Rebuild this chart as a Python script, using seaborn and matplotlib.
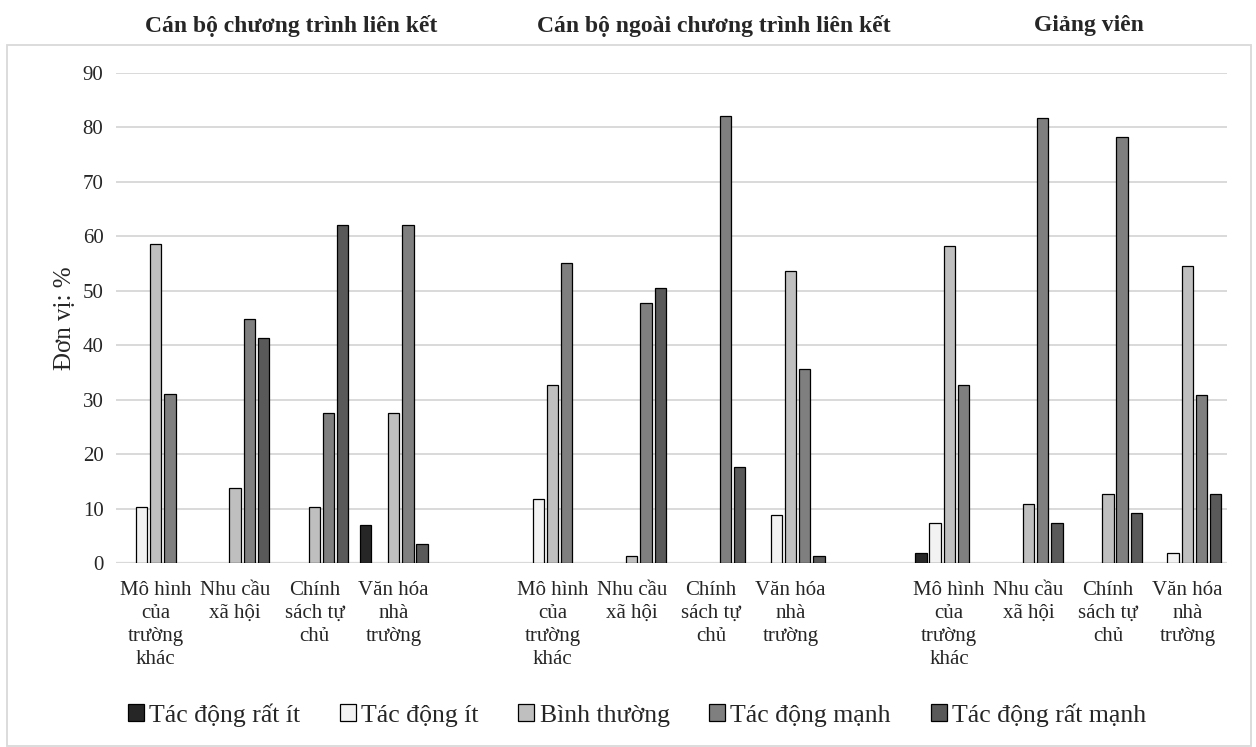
import matplotlib
matplotlib.use("Agg")
import matplotlib.pyplot as plt
from matplotlib.patches import Patch, Rectangle
import pandas as pd
import seaborn as sns

# Survey respondents (one panel each) and the four factors asked about
groups = ["Cán bộ chương trình liên kết",
          "Cán bộ ngoài chương trình liên kết",
          "Giảng viên"]
factors = ["Mô hình\ncủa\ntrường\nkhác",
           "Nhu cầu\nxã hội",
           "Chính\nsách tự\nchủ",
           "Văn hóa\nnhà\ntrường"]
levels = ["Tác động rất ít", "Tác động ít", "Bình thường",
          "Tác động mạnh", "Tác động rất mạnh"]

# Share of answers (%) per factor; columns follow `levels`
lien_ket = [[0.0, 10.3, 58.6, 31.0, 0.0],
            [0.0, 0.0, 13.8, 44.8, 41.4],
            [0.0, 0.0, 10.3, 27.6, 62.1],
            [6.9, 0.0, 27.6, 62.1, 3.4]]
ngoai_lien_ket = [[0.0, 11.7, 32.7, 55.1, 0.0],
                  [0.0, 0.0, 1.3, 47.7, 50.6],
                  [0.0, 0.0, 0.0, 82.1, 17.7],
                  [0.0, 8.9, 53.7, 35.7, 1.3]]
giang_vien = [[1.8, 7.3, 58.2, 32.7, 0.0],
              [0.0, 0.0, 10.9, 81.8, 7.3],
              [0.0, 0.0, 12.7, 78.2, 9.1],
              [0.0, 1.8, 54.5, 30.9, 12.7]]

colors = ["#262626", "#F2F2F2", "#BFBFBF", "#7F7F7F", "#595959"]
grid_color = "#D9D9D9"
serif = ["Liberation Serif", "DejaVu Serif"]

# Long table: one row per (group, factor, level)
rows = []
for g, table in zip(groups, [lien_ket, ngoai_lien_ket, giang_vien]):
    for f, vals in zip(factors, table):
        for lv, v in zip(levels, vals):
            if v > 0:
                rows.append({"slot": f"{g}|{f}", "level": lv, "value": v})
df = pd.DataFrame(rows)

# Category order with an empty slot between respondent groups
order, labels = [], []
for i, g in enumerate(groups):
    if i > 0:
        order.append(f"gap{i}")
        labels.append("")
    for f in factors:
        order.append(f"{g}|{f}")
        labels.append(f)

sns.set_theme(style="white")
plt.rcParams["font.family"] = serif

W, H = 1256, 747
fig = plt.figure(figsize=(W / 100, H / 100), dpi=100)
ax = fig.add_axes([116 / W, 1 - 563 / H, (1227 - 116) / W, (563 - 73) / H])

group_width = 0.895
sns.barplot(data=df, x="slot", y="value", hue="level", order=order,
            hue_order=levels, palette=colors, width=group_width,
            edgecolor="black", linewidth=0.9, saturation=1,
            legend=False, ax=ax)

# Narrow each bar a little so neighbouring bars keep a small gap
bar_w = 0.143
for p in ax.patches:
    cx = p.get_x() + p.get_width() / 2
    p.set_x(cx - bar_w / 2)
    p.set_width(bar_w)

ax.set_xlim(-0.5, len(order) - 0.5)
ax.set_ylim(0, 90)
ax.set_yticks(range(0, 91, 10))
ax.yaxis.grid(True, color=grid_color, linewidth=1.4)
ax.set_axisbelow(True)
for s in ax.spines.values():
    s.set_visible(False)
ax.axhline(0, color=grid_color, linewidth=1.6, zorder=0.5)

ax.set_xticks(range(len(order)))
ax.set_xticklabels(labels, fontsize=15, linespacing=1.28)
ax.tick_params(axis="x", length=0, pad=13)
ax.tick_params(axis="y", length=0, pad=9, labelsize=15)
ax.set_xlabel("")
ax.set_ylabel("Đơn vị: %", fontsize=18, labelpad=5)

# Respondent group headings
for g, xc in zip(groups, [291, 714, 1089]):
    fig.text(xc / W, 1 - 26 / H, g, ha="center", va="center",
             fontsize=17, fontweight="bold", family=serif)

# Chart frame
fig.patches.append(Rectangle((7 / W, 1 - 746 / H), (1251 - 7) / W,
                             (746 - 45) / H, transform=fig.transFigure,
                             fill=False, edgecolor=grid_color, linewidth=1.3))

handles = [Patch(facecolor=c, edgecolor="black", linewidth=0.9) for c in colors]
fig.legend(handles, levels, loc="center", bbox_to_anchor=(637 / W, 1 - 715 / H),
           ncol=5, frameon=False, fontsize=18.5, handlelength=0.62,
           handleheight=0.62, handletextpad=0.2, columnspacing=1.55)

fig.savefig("out.png", dpi=100)
